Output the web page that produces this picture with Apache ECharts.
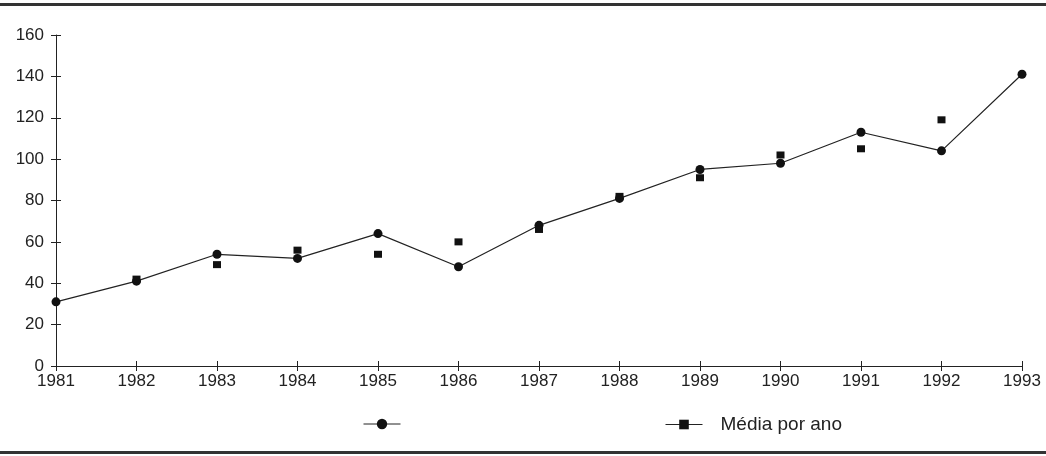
<!DOCTYPE html>
<html>
<head>
<meta charset="utf-8">
<script src="https://cdn.jsdelivr.net/npm/echarts@6/dist/echarts.min.js"></script>
<style>
  html, body { margin: 0; padding: 0; background: #fff; }
  #chart { width: 1046px; height: 456px; }
</style>
</head>
<body>
<div id="chart"></div>
<script>
"use strict";
var years = ["1981", "1982", "1983", "1984", "1985", "1986", "1987", "1988", "1989", "1990", "1991", "1992", "1993"];
var lineValues = [31, 41, 54, 52, 64, 48, 68, 81, 95, 98, 113, 104, 141];
var mediaPorAno = [null, 42, 49, 56, 54, 60, 66, 82, 91, 102, 105, 119, null];
var yTicks = [0, 160, 20];

var chart = echarts.init(document.getElementById("chart"));
var font = "'Liberation Sans', Arial, sans-serif";
var ink = "#222";

// two copies of each axis: one with outside ticks + labels, one with inside ticks,
// so the ticks cross the axis line like in the original
function xAxisCopy(inside) {
  return {
    type: "category",
    position: "bottom",
    data: years,
    boundaryGap: false,
    axisLine: { show: !inside, lineStyle: { color: ink, width: 1 } },
    axisTick: { inside: inside, length: 5, lineStyle: { color: ink } },
    axisLabel: { show: !inside, color: ink, fontSize: 17, margin: 7 },
  };
}
function yAxisCopy(inside) {
  return {
    type: "value",
    position: "left",
    min: yTicks[0],
    max: yTicks[1],
    interval: yTicks[2],
    splitLine: { show: false },
    axisLine: { show: !inside, lineStyle: { color: ink, width: 1 } },
    axisTick: { show: true, inside: inside, length: 5, lineStyle: { color: ink } },
    axisLabel: { show: !inside, color: ink, fontSize: 17, margin: 12 },
  };
}

chart.setOption({
  animation: false,
  textStyle: { fontFamily: font },
  grid: { left: 56, right: 24, top: 35, bottom: 90 },
  xAxis: [xAxisCopy(false), xAxisCopy(true)],
  yAxis: [yAxisCopy(false), yAxisCopy(true)],
  legend: [
    {
      left: 358,
      top: 410,
      itemWidth: 37,
      itemHeight: 13,
      data: [
        {
          name: " ",
          lineStyle: { width: 1, color: ink },
        },
      ],
      textStyle: { fontSize: 18, color: ink },
    },
    {
      left: 660,
      top: 410,
      itemWidth: 37,
      itemHeight: 12,
      data: [
        {
          name: "Média por ano",
          lineStyle: { opacity: 1, width: 1, color: ink },
        },
      ],
      textStyle: { fontSize: 19, color: ink, padding: [0, 0, 0, 13] },
    },
  ],
  series: [
    {
      name: " ",
      type: "line",
      data: lineValues,
      symbol: "circle",
      symbolSize: 9,
      itemStyle: { color: "#111" },
      lineStyle: { color: ink, width: 1.2 },
    },
    {
      name: "Média por ano",
      type: "line",
      data: mediaPorAno,
      symbol: "rect",
      symbolSize: [8, 7],
      itemStyle: { color: "#111" },
      lineStyle: { opacity: 0, width: 1, color: ink },
    },
  ],
  graphic: [
    {
      type: "rect",
      shape: { x: 0, y: 3, width: 1046, height: 3 },
      style: { fill: "#333" },
    },
    {
      type: "rect",
      shape: { x: 0, y: 451, width: 1046, height: 3 },
      style: { fill: "#333" },
    },
  ],
});
</script>
</body>
</html>
